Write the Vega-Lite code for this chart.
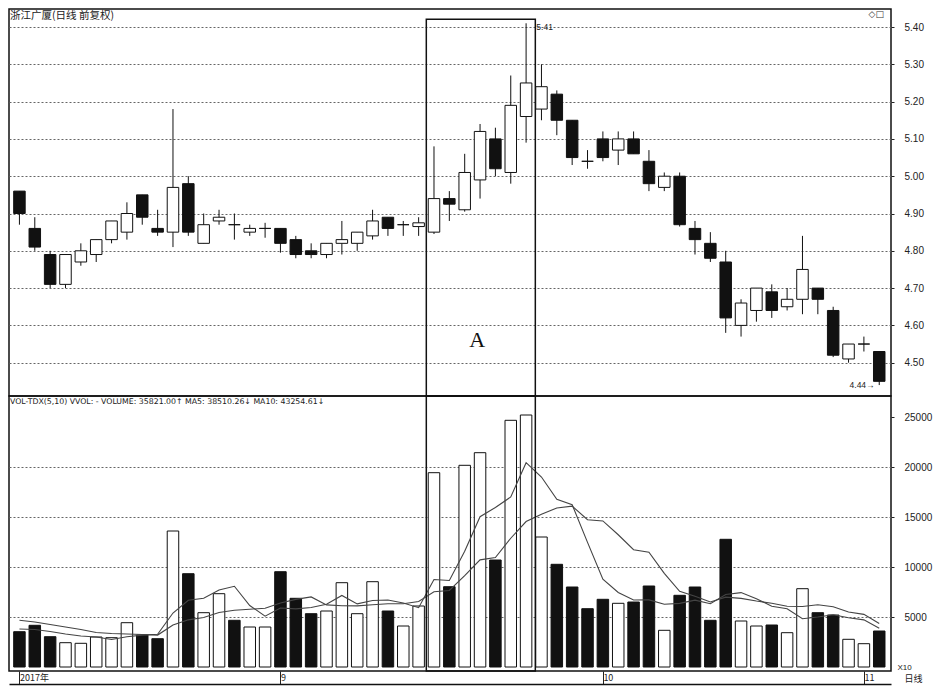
{
  "$schema": "https://vega.github.io/schema/vega-lite/v6.json",
  "background": "white",
  "padding": {"left": 8, "top": 8, "right": 0, "bottom": 0},
  "spacing": 0,
  "bounds": "flush",
  "config": {
    "view": {"stroke": "#111", "strokeWidth": 1.5},
    "font": "Liberation Sans",
    "axis": {"labelColor": "#222", "tickColor": "#222", "domain": false, "grid": false, "title": null, "labelFontSize": 10, "tickSize": 3, "labelPadding": 10}
  },
  "datasets": {
    "k": [
      {"i":1,"o":4.96,"h":4.96,"l":4.87,"c":4.90,"v":3530,"d":"down","m5":3800,"m10":4670},
      {"i":2,"o":4.86,"h":4.89,"l":4.80,"c":4.81,"v":4170,"d":"down","m5":3750,"m10":4500},
      {"i":3,"o":4.79,"h":4.80,"l":4.70,"c":4.71,"v":3030,"d":"down","m5":3550,"m10":4250},
      {"i":4,"o":4.71,"h":4.79,"l":4.70,"c":4.79,"v":2430,"d":"up","m5":3300,"m10":4000},
      {"i":5,"o":4.77,"h":4.82,"l":4.76,"c":4.80,"v":2370,"d":"up","m5":3106,"m10":3750},
      {"i":6,"o":4.79,"h":4.83,"l":4.77,"c":4.83,"v":3000,"d":"up","m5":3000,"m10":3450},
      {"i":7,"o":4.83,"h":4.88,"l":4.82,"c":4.88,"v":2930,"d":"up","m5":2752,"m10":3350},
      {"i":8,"o":4.85,"h":4.93,"l":4.83,"c":4.90,"v":4430,"d":"up","m5":3032,"m10":3300},
      {"i":9,"o":4.95,"h":4.95,"l":4.87,"c":4.89,"v":3200,"d":"down","m5":3186,"m10":3250},
      {"i":10,"o":4.86,"h":4.91,"l":4.84,"c":4.85,"v":2830,"d":"down","m5":3278,"m10":3192},
      {"i":11,"o":4.85,"h":5.18,"l":4.81,"c":4.97,"v":13600,"d":"up","m5":5398,"m10":4199},
      {"i":12,"o":4.98,"h":5.00,"l":4.84,"c":4.85,"v":9330,"d":"down","m5":6678,"m10":4715},
      {"i":13,"o":4.82,"h":4.90,"l":4.82,"c":4.87,"v":5430,"d":"up","m5":6878,"m10":4955},
      {"i":14,"o":4.88,"h":4.91,"l":4.87,"c":4.89,"v":7330,"d":"up","m5":7704,"m10":5445},
      {"i":15,"o":4.87,"h":4.90,"l":4.83,"c":4.87,"v":4670,"d":"down","m5":8072,"m10":5675},
      {"i":16,"o":4.85,"h":4.87,"l":4.84,"c":4.86,"v":4000,"d":"up","m5":6152,"m10":5775},
      {"i":17,"o":4.86,"h":4.875,"l":4.835,"c":4.86,"v":4000,"d":"up","m5":5086,"m10":5882},
      {"i":18,"o":4.86,"h":4.86,"l":4.795,"c":4.82,"v":9530,"d":"down","m5":5906,"m10":6392},
      {"i":19,"o":4.83,"h":4.84,"l":4.78,"c":4.79,"v":6870,"d":"down","m5":5814,"m10":6759},
      {"i":20,"o":4.80,"h":4.82,"l":4.78,"c":4.79,"v":5330,"d":"down","m5":5946,"m10":7009},
      {"i":21,"o":4.79,"h":4.82,"l":4.78,"c":4.82,"v":5600,"d":"up","m5":6266,"m10":6209},
      {"i":22,"o":4.82,"h":4.88,"l":4.79,"c":4.83,"v":8430,"d":"up","m5":7152,"m10":6119},
      {"i":23,"o":4.82,"h":4.85,"l":4.80,"c":4.85,"v":5330,"d":"up","m5":6312,"m10":6109},
      {"i":24,"o":4.84,"h":4.91,"l":4.83,"c":4.88,"v":8530,"d":"up","m5":6644,"m10":6229},
      {"i":25,"o":4.89,"h":4.89,"l":4.84,"c":4.86,"v":5600,"d":"down","m5":6698,"m10":6322},
      {"i":26,"o":4.87,"h":4.88,"l":4.84,"c":4.87,"v":4100,"d":"up","m5":6398,"m10":6332},
      {"i":27,"o":4.865,"h":4.89,"l":4.84,"c":4.875,"v":6100,"d":"up","m5":5932,"m10":6542},
      {"i":28,"o":4.85,"h":5.08,"l":4.845,"c":4.94,"v":19430,"d":"up","m5":8752,"m10":7532},
      {"i":29,"o":4.94,"h":4.96,"l":4.88,"c":4.925,"v":8030,"d":"down","m5":8652,"m10":7648},
      {"i":30,"o":4.91,"h":5.06,"l":4.905,"c":5.01,"v":20170,"d":"up","m5":11566,"m10":9132},
      {"i":31,"o":4.99,"h":5.14,"l":4.94,"c":5.12,"v":21430,"d":"up","m5":15032,"m10":10715},
      {"i":32,"o":5.10,"h":5.13,"l":5.00,"c":5.02,"v":10700,"d":"down","m5":15952,"m10":10942},
      {"i":33,"o":5.01,"h":5.27,"l":4.98,"c":5.19,"v":24670,"d":"up","m5":17000,"m10":12876},
      {"i":34,"o":5.16,"h":5.41,"l":5.09,"c":5.25,"v":25200,"d":"up","m5":20434,"m10":14543},
      {"i":35,"o":5.18,"h":5.30,"l":5.15,"c":5.24,"v":13000,"d":"up","m5":19000,"m10":15283},
      {"i":36,"o":5.22,"h":5.23,"l":5.11,"c":5.15,"v":10270,"d":"down","m5":16768,"m10":15900},
      {"i":37,"o":5.15,"h":5.15,"l":5.03,"c":5.05,"v":8000,"d":"down","m5":16228,"m10":16090},
      {"i":38,"o":5.04,"h":5.07,"l":5.02,"c":5.04,"v":5830,"d":"down","m5":12460,"m10":14730},
      {"i":39,"o":5.10,"h":5.12,"l":5.04,"c":5.05,"v":6770,"d":"down","m5":8774,"m10":14604},
      {"i":40,"o":5.07,"h":5.12,"l":5.03,"c":5.10,"v":6370,"d":"up","m5":7448,"m10":13224},
      {"i":41,"o":5.10,"h":5.12,"l":5.06,"c":5.06,"v":6500,"d":"down","m5":6694,"m10":11731},
      {"i":42,"o":5.04,"h":5.07,"l":4.96,"c":4.98,"v":8100,"d":"down","m5":6714,"m10":11471},
      {"i":43,"o":4.97,"h":5.01,"l":4.96,"c":5.00,"v":3670,"d":"up","m5":6282,"m10":9371},
      {"i":44,"o":5.00,"h":5.01,"l":4.865,"c":4.87,"v":7170,"d":"down","m5":6362,"m10":7568},
      {"i":45,"o":4.86,"h":4.88,"l":4.79,"c":4.83,"v":8000,"d":"down","m5":6688,"m10":7068},
      {"i":46,"o":4.82,"h":4.85,"l":4.77,"c":4.78,"v":4670,"d":"down","m5":6322,"m10":6508},
      {"i":47,"o":4.77,"h":4.80,"l":4.58,"c":4.62,"v":12770,"d":"down","m5":7256,"m10":6985},
      {"i":48,"o":4.60,"h":4.67,"l":4.57,"c":4.66,"v":4600,"d":"up","m5":7442,"m10":6862},
      {"i":49,"o":4.64,"h":4.70,"l":4.61,"c":4.70,"v":4100,"d":"up","m5":6828,"m10":6595},
      {"i":50,"o":4.69,"h":4.71,"l":4.62,"c":4.64,"v":4200,"d":"down","m5":6068,"m10":6378},
      {"i":51,"o":4.65,"h":4.70,"l":4.64,"c":4.67,"v":3430,"d":"up","m5":5820,"m10":6071},
      {"i":52,"o":4.67,"h":4.84,"l":4.63,"c":4.75,"v":7830,"d":"up","m5":4832,"m10":6044},
      {"i":53,"o":4.70,"h":4.70,"l":4.63,"c":4.67,"v":5430,"d":"down","m5":4998,"m10":6220},
      {"i":54,"o":4.64,"h":4.65,"l":4.515,"c":4.52,"v":5200,"d":"down","m5":5218,"m10":6023},
      {"i":55,"o":4.51,"h":4.55,"l":4.50,"c":4.55,"v":2770,"d":"up","m5":4932,"m10":5500},
      {"i":56,"o":4.55,"h":4.57,"l":4.53,"c":4.55,"v":2330,"d":"up","m5":4712,"m10":5266},
      {"i":57,"o":4.53,"h":4.53,"l":4.44,"c":4.45,"v":3600,"d":"down","m5":3866,"m10":4349}
    ]
  },
  "vconcat": [
    {
      "width": 882,
      "height": 387,
      "title": {"text": "浙江广厦(日线 前复权)", "anchor": "start", "offset": -12, "font": "Noto Sans CJK SC", "fontSize": 10.5, "fontWeight": "normal", "color": "#222", "dx": 1},
      "data": {"name": "k"},
      "encoding": {
        "x": {"field": "i", "type": "quantitative", "scale": {"domain": [0.646, 57.44], "nice": false, "zero": false}, "axis": null}
      },
      "layer": [
        {
          "mark": {"type": "rule", "color": "#111", "strokeWidth": 1},
          "encoding": {
            "y": {"field": "l", "type": "quantitative", "scale": {"domain": [4.4107, 5.4483], "nice": false, "zero": false},
              "axis": {"orient": "right", "values": [4.5,4.55,4.6,4.65,4.7,4.75,4.8,4.85,4.9,4.95,5.0,5.05,5.1,5.15,5.2,5.25,5.3,5.35,5.4], "format": ".2f",
                "grid": true, "gridDash": [2, 2], "gridColor": "#666", "gridWidth": 1,
                "gridOpacity": {"condition": {"test": "round(datum.value * 100) % 10 == 0", "value": 1}, "value": 0}}},
            "y2": {"field": "h"}
          }
        },
        {
          "mark": {"type": "bar", "width": 11.5, "stroke": "#111", "strokeWidth": 1},
          "encoding": {
            "y": {"field": "o", "type": "quantitative"},
            "y2": {"field": "c"},
            "fill": {"field": "d", "type": "nominal", "scale": {"domain": ["up", "down"], "range": ["#ffffff", "#111111"]}, "legend": null}
          }
        },
        {
          "data": {"values": [{"i": 30.81, "p": 4.542, "t": "A"}]},
          "mark": {"type": "text", "font": "Liberation Serif", "fontSize": 22, "color": "#111", "baseline": "alphabetic", "align": "center"},
          "encoding": {
            "y": {"field": "p", "type": "quantitative"},
            "text": {"field": "t"}
          }
        },
        {
          "data": {"values": [{"i": 34.6, "p": 5.40, "t": "5.41"}, {"i": 55.0, "p": 4.44, "t": "4.44→"}]},
          "mark": {"type": "text", "fontSize": 8.5, "color": "#222", "align": "left", "baseline": "middle", "dx": 1},
          "encoding": {
            "y": {"field": "p", "type": "quantitative"},
            "text": {"field": "t"}
          }
        },
        {
          "data": {"values": [{"i": 56.8, "p": 5.435, "t": "◇□"}]},
          "mark": {"type": "text", "font": "DejaVu Sans", "fontSize": 9, "color": "#333", "align": "center", "baseline": "middle"},
          "encoding": {
            "y": {"field": "p", "type": "quantitative"},
            "text": {"field": "t"}
          }
        },
        {
          "data": {"values": [{"i1": 27.5, "i2": 34.6, "p1": 5.421, "p2": 4.4107}]},
          "mark": {"type": "rect", "fill": null, "stroke": "#111", "strokeWidth": 1.5},
          "encoding": {
            "x": {"field": "i1", "type": "quantitative"},
            "x2": {"field": "i2"},
            "y": {"field": "p1", "type": "quantitative"},
            "y2": {"field": "p2"}
          }
        }
      ]
    },
    {
      "width": 882,
      "height": 275,
      "title": {"text": "VOL-TDX(5,10) VVOL: -   VOLUME: 35821.00↑  MA5: 38510.26↓  MA10: 43254.61↓", "anchor": "start", "offset": -11, "font": "DejaVu Sans", "fontSize": 7.8, "fontWeight": "normal", "color": "#222", "dx": 1},
      "data": {"name": "k"},
      "encoding": {
        "x": {"field": "i", "type": "quantitative", "scale": {"domain": [0.646, 57.44], "nice": false, "zero": false},
          "axis": {"orient": "bottom", "values": [1, 18, 39, 56], "labelExpr": "datum.value == 1 ? '2017年' : datum.value == 18 ? '9' : datum.value == 39 ? '10' : '11'",
            "labelFont": "Noto Sans CJK SC", "labelFontSize": 9, "labelAlign": "left", "labelDx": 1, "offset": 13, "tickSize": -13, "labelPadding": 2,
            "domain": true, "domainColor": "#111", "domainWidth": 1.5, "tickColor": "#222",
            "title": "日线", "titleFont": "Noto Sans CJK SC", "titleFontSize": 9, "titleFontWeight": "normal", "titleX": 904, "titleY": -6, "titleBaseline": "middle", "titleColor": "#222"}}
      },
      "layer": [
        {
          "mark": {"type": "bar", "width": 11.5, "stroke": "#111", "strokeWidth": 1},
          "encoding": {
            "y": {"field": "v", "type": "quantitative", "scale": {"domain": [-400, 27100], "nice": false, "zero": false},
              "axis": {"orient": "right", "values": [5000,7500,10000,12500,15000,17500,20000,22500,25000], "format": "d",
                "grid": true, "gridDash": [2, 2], "gridColor": "#666", "gridWidth": 1,
                "gridOpacity": {"condition": {"test": "datum.value % 5000 == 0 && datum.value < 25000", "value": 1}, "value": 0},
                "title": "X10", "titleAngle": 0, "titleX": 6, "titleY": 271, "titleFontSize": 8, "titleFontWeight": "normal", "titleAlign": "left", "titleBaseline": "middle", "titleColor": "#222"}},
            "y2": {"datum": 0},
            "fill": {"field": "d", "type": "nominal", "scale": {"domain": ["up", "down"], "range": ["#ffffff", "#111111"]}, "legend": null}
          }
        },
        {
          "mark": {"type": "line", "color": "#444", "strokeWidth": 1.1},
          "encoding": {
            "y": {"field": "m5", "type": "quantitative"}
          }
        },
        {
          "mark": {"type": "line", "color": "#444", "strokeWidth": 1.1},
          "encoding": {
            "y": {"field": "m10", "type": "quantitative"}
          }
        },
        {
          "data": {"values": [{"i1": 27.5, "i2": 34.6, "v1": 27100, "v2": -400}]},
          "mark": {"type": "rect", "fill": null, "stroke": "#111", "strokeWidth": 1.5},
          "encoding": {
            "x": {"field": "i1", "type": "quantitative"},
            "x2": {"field": "i2"},
            "y": {"field": "v1", "type": "quantitative"},
            "y2": {"field": "v2"}
          }
        }
      ]
    }
  ]
}
